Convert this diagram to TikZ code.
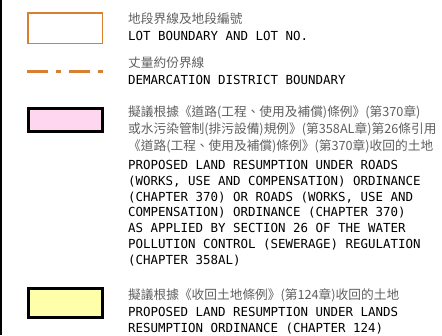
\documentclass[tikz,border=0pt]{standalone}
\usepackage{fontspec}
\setmainfont{DejaVu Sans Mono}
\newfontfamily\engfont{DejaVu Sans Mono}
\newfontfamily\cjkfont{Noto Sans CJK TC}
\definecolor{lotorange}{RGB}{217,128,48}
\definecolor{respink}{RGB}{255,214,240}
\definecolor{resyellow}{RGB}{255,255,170}
\definecolor{cjkgray}{RGB}{95,95,95}
\tikzset{
  lotbox/.style={draw=lotorange, line width=1.5pt},
  demline/.style={draw=lotorange, line width=3pt, dash pattern=on 21pt off 7.5pt on 5pt off 8.5pt},
  resbox/.style={draw=black, line width=3pt},
  cjktext/.style={anchor=base west, inner sep=0pt, text=cjkgray, font=\cjkfont\fontsize{12.7pt}{14pt}\selectfont},
  engtext/.style={anchor=base west, inner sep=0pt, text=black, font=\engfont\fontsize{12.45pt}{14pt}\selectfont},
}
\begin{document}
\begin{tikzpicture}[x=1pt,y=-1pt]
\useasboundingbox (0,0) rectangle (442,335);
\fill[black] (0,0) rectangle (2,335);
% symbols
\draw[lotbox] (27.75,12.75) rectangle (102.25,43.25);
\coordinate (demA) at (27,71);
\coordinate (demB) at (103,71);
\draw[demline] (demA) -- (demB);
\draw[resbox, fill=respink] (28.5,108.5) rectangle (102.5,131.5);
\draw[resbox, fill=resyellow] (28.5,288.5) rectangle (102.5,317.5);
% texts
\node[cjktext] (t1c) at (128,23.5) {地段界線及地段編號};
\node[engtext] (t1e) at (128,40.5) {LOT BOUNDARY AND LOT NO.};
\node[cjktext] (t2c) at (128,67.5) {丈量約份界線};
\node[engtext] (t2e) at (128,84.5) {DEMARCATION DISTRICT BOUNDARY};
\node[cjktext] (t3c1) at (128,116.5) {擬議根據《道路(工程、使用及補償)條例》(第370章)};
\node[cjktext] (t3c2) at (128,133.5) {或水污染管制(排污設備)規例》(第358AL章)第26條引用};
\node[cjktext] (t3c3) at (128,150.5) {《道路(工程、使用及補償)條例》(第370章)收回的土地};
\node[engtext] (t3e1) at (128,169.5) {PROPOSED LAND RESUMPTION UNDER ROADS};
\node[engtext] (t3e2) at (128,185.3) {(WORKS, USE AND COMPENSATION) ORDINANCE};
\node[engtext] (t3e3) at (128,201.1) {(CHAPTER 370) OR ROADS (WORKS, USE AND};
\node[engtext] (t3e4) at (128,216.9) {COMPENSATION) ORDINANCE (CHAPTER 370)};
\node[engtext] (t3e5) at (128,232.7) {AS APPLIED BY SECTION 26 OF THE WATER};
\node[engtext] (t3e6) at (128,248.5) {POLLUTION CONTROL (SEWERAGE) REGULATION};
\node[engtext] (t3e7) at (128,264.3) {(CHAPTER 358AL)};
\node[cjktext] (t4c) at (128,299.5) {擬議根據《收回土地條例》(第124章)收回的土地};
\node[engtext] (t4e1) at (128,316.5) {PROPOSED LAND RESUMPTION UNDER LANDS};
\node[engtext] (t4e2) at (128,332) {RESUMPTION ORDINANCE (CHAPTER 124)};
\end{tikzpicture}
\end{document}
